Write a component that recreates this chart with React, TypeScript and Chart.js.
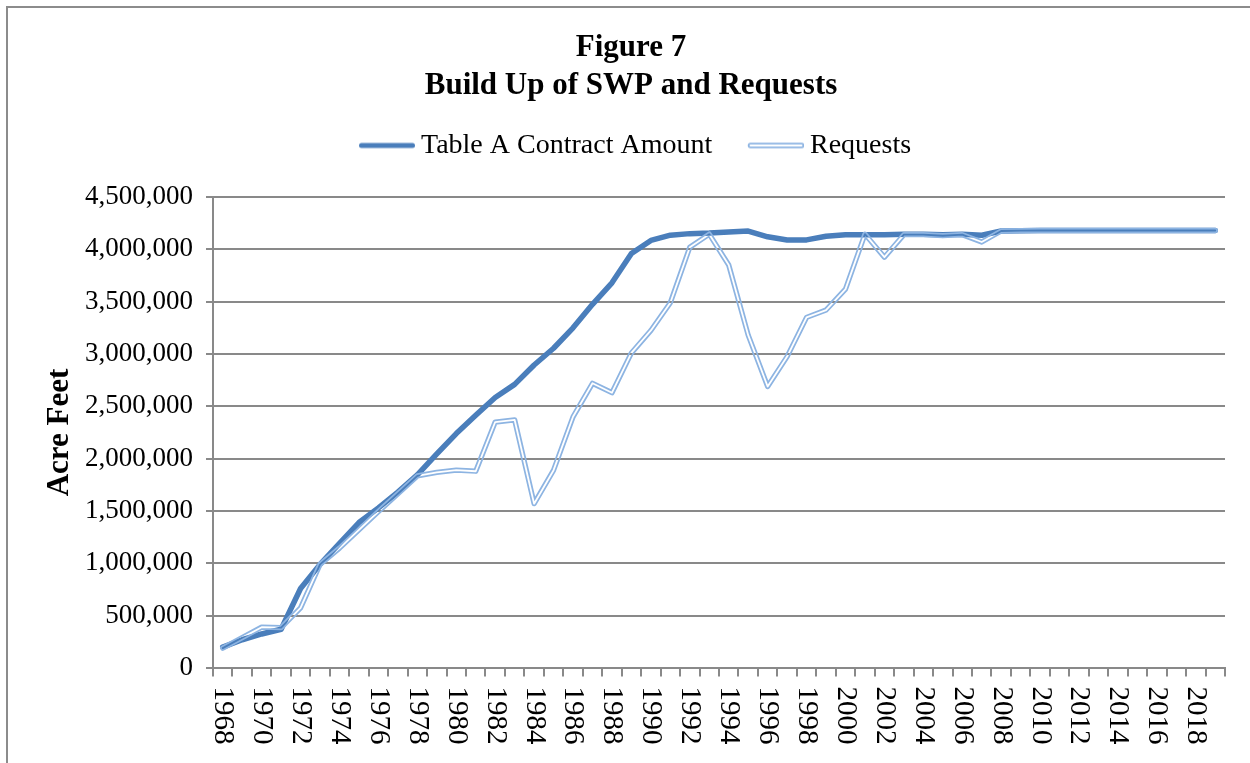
import React, { useEffect, useRef } from "react";
import { Chart, registerables } from "chart.js";

Chart.register(...registerables);

const FONT = "'Liberation Serif', 'Times New Roman', serif";
const GRID = "#898989";
const DARK = "#4a7ebb";
const LIGHT = "#8db4e2";

const years: string[] = [
  "1968", "1969", "1970", "1971", "1972", "1973", "1974", "1975", "1976", "1977",
  "1978", "1979", "1980", "1981", "1982", "1983", "1984", "1985", "1986", "1987",
  "1988", "1989", "1990", "1991", "1992", "1993", "1994", "1995", "1996", "1997",
  "1998", "1999", "2000", "2001", "2002", "2003", "2004", "2005", "2006", "2007",
  "2008", "2009", "2010", "2011", "2012", "2013", "2014", "2015", "2016", "2017",
  "2018", "2019",
];

const tableA: number[] = [
  200000, 270000, 325000, 370000, 760000, 990000, 1190000, 1390000, 1530000, 1680000,
  1845000, 2045000, 2240000, 2415000, 2585000, 2710000, 2895000, 3055000, 3250000, 3475000,
  3680000, 3960000, 4085000, 4135000, 4150000, 4155000, 4165000, 4175000, 4120000, 4090000,
  4090000, 4125000, 4140000, 4140000, 4140000, 4145000, 4145000, 4140000, 4145000, 4135000,
  4175000, 4178000, 4180000, 4180000, 4180000, 4180000, 4180000, 4180000, 4180000, 4180000,
  4180000, 4180000,
];

const requests: number[] = [
  190000, 290000, 390000, 385000, 575000, 990000, 1145000, 1320000, 1495000, 1665000,
  1835000, 1870000, 1890000, 1880000, 2350000, 2370000, 1570000, 1890000, 2400000, 2720000,
  2630000, 3010000, 3225000, 3490000, 4020000, 4145000, 3850000, 3180000, 2690000, 2975000,
  3350000, 3420000, 3620000, 4145000, 3925000, 4140000, 4140000, 4130000, 4140000, 4070000,
  4175000, 4178000, 4180000, 4180000, 4180000, 4180000, 4180000, 4180000, 4180000, 4180000,
  4180000, 4180000,
];

const xTickLabels: string[] = years.filter((y) => Number(y) % 2 === 0);

const titleLines: string[] = ["Figure 7", "Build Up of SWP and Requests"];
const seriesNames: string[] = ["Table A Contract Amount", "Requests"];
const yTitle = "Acre Feet";

function makeMarker(double: boolean): HTMLCanvasElement {
  const off = 8;
  const len = 56;
  const c = document.createElement("canvas");
  c.width = len + 2 * off;
  c.height = 10;
  const g = c.getContext("2d")!;
  g.lineCap = "round";
  g.beginPath();
  g.moveTo(2 * off + 2.5, 5);
  g.lineTo(2 * off + len - 2.5, 5);
  if (double) {
    g.strokeStyle = LIGHT;
    g.lineWidth = 5.5;
    g.stroke();
    g.globalCompositeOperation = "destination-out";
    g.lineWidth = 2;
    g.stroke();
  } else {
    g.strokeStyle = DARK;
    g.lineWidth = 5;
    g.stroke();
  }
  return c;
}

export default function App() {
  const ref = useRef<HTMLCanvasElement>(null);

  useEffect(() => {
    if (!ref.current) return;
    const markerA = makeMarker(false);
    const markerR = makeMarker(true);

    const legendMargin = {
      id: "legendMargin",
      beforeInit(chart: any) {
        const legend = chart.legend;
        if (!legend) return;
        const orig = legend.fit;
        legend.fit = function () {
          orig.call(this);
          this.height += 27.5;
        };
      },
    };

    const doubleLine = {
      id: "doubleLine",
      afterDatasetsDraw(chart: any) {
        const meta = chart.getDatasetMeta(1);
        const pts = meta.data;
        const off = document.createElement("canvas");
        off.width = chart.canvas.width;
        off.height = chart.canvas.height;
        const o = off.getContext("2d")!;
        o.lineJoin = "round";
        o.lineCap = "round";
        o.beginPath();
        pts.forEach((p: any, i: number) => {
          if (i === 0) o.moveTo(p.x, p.y);
          else o.lineTo(p.x, p.y);
        });
        o.strokeStyle = LIGHT;
        o.lineWidth = 5.3;
        o.stroke();
        o.globalCompositeOperation = "destination-out";
        o.lineWidth = 1.8;
        o.stroke();
        const ctx = chart.ctx;
        ctx.save();
        ctx.setTransform(1, 0, 0, 1, 0, 0);
        ctx.drawImage(off, 0, 0);
        ctx.restore();
      },
    };

    const xLabels = {
      id: "xLabels",
      afterDraw(chart: any) {
        const xs = chart.scales.x;
        const ctx = chart.ctx;
        ctx.save();
        ctx.font = `29px ${FONT}`;
        ctx.fillStyle = "#000";
        ctx.textAlign = "left";
        ctx.textBaseline = "middle";
        const y0 = chart.chartArea.bottom + 18.5;
        years.forEach((yr, i) => {
          if (!xTickLabels.includes(yr)) return;
          const x = xs.getPixelForTick(i);
          ctx.save();
          ctx.translate(x, y0);
          ctx.rotate(Math.PI / 2);
          ctx.fillText(yr, 0, 0);
          ctx.restore();
        });
        ctx.restore();
      },
    };

    const chart = new Chart(ref.current, {
      type: "line",
      data: {
        labels: years,
        datasets: [
          {
            label: seriesNames[0],
            data: tableA,
            borderColor: DARK,
            backgroundColor: DARK,
            borderWidth: 5.5,
            borderCapStyle: "round",
            borderJoinStyle: "round",
            pointRadius: 0,
            tension: 0,
            fill: false,
          },
          {
            label: seriesNames[1],
            data: requests,
            borderColor: LIGHT,
            backgroundColor: LIGHT,
            borderWidth: 5,
            showLine: false,
            pointRadius: 0,
            fill: false,
          },
        ],
      },
      options: {
        responsive: false,
        animation: false,
        events: [],
        layout: { padding: { top: 10, left: 37, right: 25, bottom: 0 } },
        plugins: {
          title: {
            display: true,
            text: titleLines,
            color: "#000",
            font: { family: FONT, size: 31, weight: "bold", lineHeight: 1.21 },
            padding: { top: 19.25, bottom: -0.47 },
          },
          legend: {
            display: true,
            position: "top",
            labels: {
              usePointStyle: true,
              pointStyleWidth: 56.1,
              padding: 27.7,
              color: "#000",
              font: { family: FONT, size: 28 },
              generateLabels: () => [
                { text: seriesNames[0], pointStyle: markerA, fillStyle: DARK, strokeStyle: DARK, lineWidth: 0, hidden: false, datasetIndex: 0 },
                { text: seriesNames[1], pointStyle: markerR, fillStyle: LIGHT, strokeStyle: LIGHT, lineWidth: 0, hidden: false, datasetIndex: 1 },
              ],
            },
          },
          tooltip: { enabled: false },
        },
        scales: {
          x: {
            type: "category",
            offset: true,
            grid: {
              display: true,
              drawOnChartArea: false,
              drawTicks: true,
              tickLength: 8.5,
              color: GRID,
              lineWidth: 2,
              offset: true,
            },
            border: { display: true, color: GRID, width: 2 },
            ticks: { display: false, autoSkip: false },
            afterFit: (s: any) => {
              s.height = 95;
            },
          },
          y: {
            min: 0,
            max: 4500000,
            ticks: {
              stepSize: 500000,
              padding: 13,
              color: "#000",
              font: { family: FONT, size: 27 },
              callback: (v: any) => Number(v).toLocaleString("en-US"),
            },
            grid: { color: GRID, lineWidth: 2, tickLength: 7, drawTicks: true },
            border: { display: true, color: GRID, width: 2 },
            title: {
              display: true,
              text: yTitle,
              color: "#000",
              font: { family: FONT, size: 31, weight: "bold" },
              padding: { top: 3.9, bottom: 0 },
            },
            afterFit: (s: any) => {
              s.width = 176;
            },
          },
        },
      } as any,
      plugins: [legendMargin, doubleLine, xLabels],
    });
    return () => chart.destroy();
  }, []);

  return (
    <div style={{ position: "fixed", inset: 0, overflow: "hidden", background: "#fff" }}>
      <div
        style={{
          position: "absolute",
          left: 6,
          top: 6,
          width: 1400,
          height: 900,
          border: "2px solid #8c8c8c",
        }}
      />
      <canvas
        ref={ref}
        width={1250}
        height={763}
        style={{ position: "absolute", left: 0, top: 0, width: 1250, height: 763 }}
      />
    </div>
  );
}
